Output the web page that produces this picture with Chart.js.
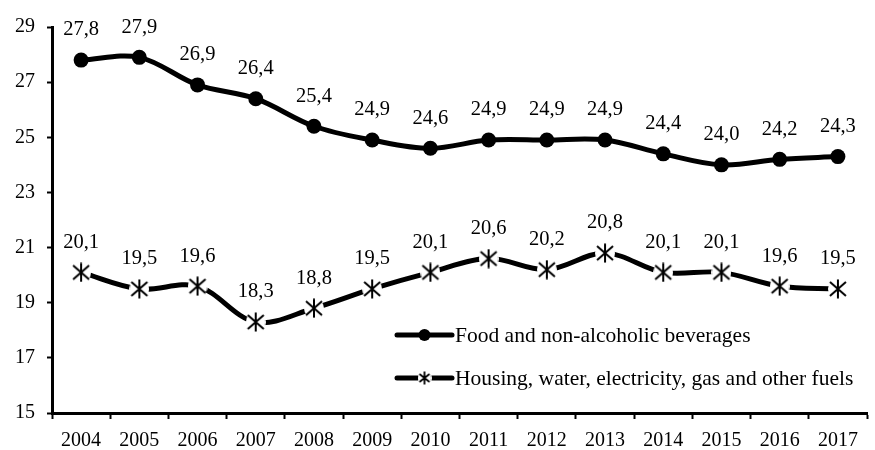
<!DOCTYPE html>
<html>
<head>
<meta charset="utf-8">
<script src="https://cdn.jsdelivr.net/npm/chart.js@4"></script>
<style>
  html, body { margin: 0; padding: 0; background: #fff; overflow: hidden; }
  #wrap { width: 882px; height: 450px; }
</style>
</head>
<body>
<div id="wrap"><canvas id="chart"></canvas></div>
<script>
const years = ["2004", "2005", "2006", "2007", "2008", "2009", "2010",
               "2011", "2012", "2013", "2014", "2015", "2016", "2017"];
const foodValues = [27.8, 27.9, 26.9, 26.4, 25.4, 24.9, 24.6, 24.9, 24.9, 24.9, 24.4, 24.0, 24.2, 24.3];
const housingValues = [20.1, 19.5, 19.6, 18.3, 18.8, 19.5, 20.1, 20.6, 20.2, 20.8, 20.1, 20.1, 19.6, 19.5];
const yTicks = [15, 17, 19, 21, 23, 25, 27, 29];

const seriesNames = [
  "Food and non-alcoholic beverages",
  "Housing, water, electricity, gas and other fuels"
];

const FONT = "'Liberation Serif', 'Times New Roman', serif";

// asterisk marker (X plus vertical bar) on a white disc
function makeStar(size, lw) {
  const c = document.createElement("canvas");
  c.width = size;
  c.height = size;
  const g = c.getContext("2d");
  const m = size / 2;
  g.fillStyle = "#fff";
  g.beginPath();
  g.arc(m, m, m, 0, Math.PI * 2);
  g.fill();
  g.strokeStyle = "#000";
  g.lineWidth = lw;
  const a = m - 2;
  const b = m - 3;
  g.beginPath();
  g.moveTo(m - a, m - b);
  g.lineTo(m + a, m + b);
  g.moveTo(m + a, m - b);
  g.lineTo(m - a, m + b);
  g.moveTo(m, m - m + 0.5);
  g.lineTo(m, m + m - 0.5);
  g.stroke();
  return c;
}

const starBig = makeStar(20, 2);
const starSmall = makeStar(14, 1.8);

const valueLabels = {
  id: "valueLabels",
  afterDatasetsDraw(chart) {
    const ctx = chart.ctx;
    ctx.save();
    ctx.font = "20.5px " + FONT;
    ctx.fillStyle = "#000";
    ctx.textAlign = "center";
    ctx.textBaseline = "middle";
    chart.data.datasets.forEach((ds, i) => {
      const meta = chart.getDatasetMeta(i);
      meta.data.forEach((pt, j) => {
        const txt = ds.data[j].toFixed(1).replace(".", ",");
        ctx.fillText(txt, pt.x, pt.y - 30);
      });
    });
    ctx.restore();
  }
};

const insideLegend = {
  id: "insideLegend",
  afterDraw(chart) {
    const ctx = chart.ctx;
    const x0 = 397, x1 = 452;
    const rows = [335, 378];
    ctx.save();
    ctx.font = "21.5px " + FONT;
    ctx.fillStyle = "#000";
    ctx.textBaseline = "middle";
    ctx.textAlign = "left";
    rows.forEach((y, i) => {
      ctx.strokeStyle = "#000";
      ctx.lineWidth = 5;
      ctx.lineCap = "round";
      ctx.beginPath();
      ctx.moveTo(x0, y);
      ctx.lineTo(x1, y);
      ctx.stroke();
      const mx = (x0 + x1) / 2;
      if (i === 0) {
        ctx.beginPath();
        ctx.arc(mx, y, 6, 0, Math.PI * 2);
        ctx.fill();
      } else {
        ctx.drawImage(starSmall, mx - 7, y - 7);
      }
      ctx.fillText(seriesNames[i], x1 + 3, y + 1);
    });
    ctx.restore();
  }
};

new Chart(document.getElementById("chart"), {
  type: "line",
  data: {
    labels: years,
    datasets: [
      {
        label: seriesNames[0],
        data: foodValues,
        borderColor: "#000",
        backgroundColor: "#000",
        borderWidth: 5,
        tension: 0.35,
        pointStyle: "circle",
        pointRadius: 7.5,
        pointBorderWidth: 0,
        pointBackgroundColor: "#000"
      },
      {
        label: seriesNames[1],
        data: housingValues,
        borderColor: "#000",
        backgroundColor: "#000",
        borderWidth: 5,
        tension: 0.35,
        pointStyle: starBig,
        pointRadius: 10
      }
    ]
  },
  options: {
    responsive: true,
    maintainAspectRatio: false,
    animation: false,
    layout: {
      padding: { top: 27, right: 0, bottom: 0, left: 0 }
    },
    plugins: {
      legend: { display: false },
      tooltip: { enabled: false }
    },
    scales: {
      x: {
        offset: true,
        grid: {
          offset: true,
          drawOnChartArea: false,
          drawTicks: true,
          tickLength: 6,
          tickWidth: 2,
          tickColor: "#000"
        },
        border: { color: "#000", width: 3 },
        ticks: {
          color: "#000",
          font: { family: FONT, size: 20 },
          padding: 10,
          maxRotation: 0,
          autoSkip: false
        },
        afterFit(scale) { scale.height = 37; }
      },
      y: {
        min: 15,
        max: 29,
        afterBuildTicks(scale) {
          scale.ticks = yTicks.map(v => ({ value: v }));
        },
        grid: {
          drawOnChartArea: false,
          drawTicks: true,
          tickLength: 5,
          tickWidth: 2,
          tickColor: "#000"
        },
        border: { color: "#000", width: 3 },
        ticks: {
          color: "#000",
          font: { family: FONT, size: 20 },
          padding: 12
        },
        afterFit(scale) { scale.width = 52; }
      }
    }
  },
  plugins: [valueLabels, insideLegend]
});
</script>
</body>
</html>
